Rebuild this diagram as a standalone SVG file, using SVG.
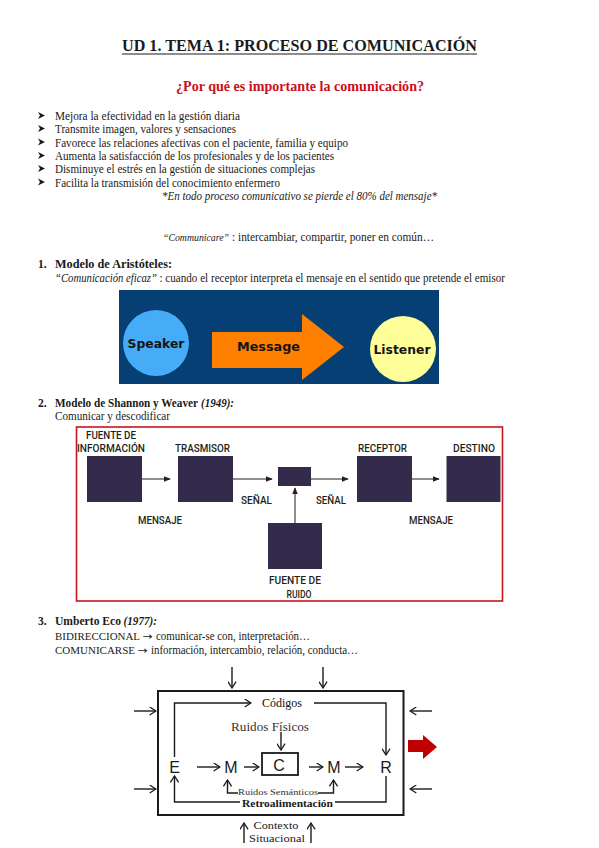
<svg xmlns="http://www.w3.org/2000/svg" width="599" height="848" viewBox="0 0 599 848">
<defs>
<style>
.s{font-family:"Liberation Serif","Times New Roman",serif;fill:#1a1a1a}
.b{font-weight:bold}
.i{font-style:italic}
.body{font-size:11.5px}
.sw{font-family:Roboto,"Liberation Sans",Arial,sans-serif;font-weight:500;font-size:11px;fill:#231f20}
.ar{font-family:"DejaVu Sans",Verdana,sans-serif;font-weight:bold;fill:#151515;font-size:13px}
.eco{stroke:#1a1a1a;stroke-width:1.4;fill:none}
.sh{stroke:#231f20;stroke-width:1;fill:none}
.box{fill:#342a4b}
.big{font-family:"Liberation Sans",Arial,sans-serif;font-size:16px;fill:#1a1a1a}
.bul{fill:#1a1a1a}
.arr{font-family:"DejaVu Sans",sans-serif;font-size:10px;fill:#1a1a1a}
</style>
<marker id="tri" viewBox="0 0 8 8" refX="7" refY="4" markerWidth="7" markerHeight="7" markerUnits="userSpaceOnUse" orient="auto">
<path d="M0,0.8 L8,4 L0,7.2 z" fill="#231f20"/>
</marker>
<marker id="open" viewBox="0 0 10 10" refX="9" refY="5" markerWidth="9" markerHeight="9" markerUnits="userSpaceOnUse" orient="auto">
<path d="M2,0.5 L9,5 L2,9.5" fill="none" stroke="#1a1a1a" stroke-width="1.4"/>
</marker>
<path id="arrowbullet" d="M0,-7 L7,-3.5 L0,0 L2,-3.5 z"/>
</defs>
<rect width="599" height="848" fill="#ffffff"/>

<!-- Header -->
<g id="header">
<text class="s b" x="299.5" y="51" font-size="16.5" text-anchor="middle" textLength="355" lengthAdjust="spacingAndGlyphs">UD 1. TEMA 1: PROCESO DE COMUNICACIÓN</text>
<line x1="122" y1="54" x2="477" y2="54" stroke="#1a1a1a" stroke-width="1"/>
<text class="s b" x="300" y="91" font-size="14.5" text-anchor="middle" style="fill:#c8101a" textLength="248" lengthAdjust="spacingAndGlyphs">¿Por qué es importante la comunicación?</text>
</g>

<!-- Bullets -->
<g id="bullets">
<g class="bul">
<use href="#arrowbullet" x="38" y="119"/>
<use href="#arrowbullet" x="38" y="132"/>
<use href="#arrowbullet" x="38" y="145.5"/>
<use href="#arrowbullet" x="38" y="159"/>
<use href="#arrowbullet" x="38" y="172"/>
<use href="#arrowbullet" x="38" y="185.5"/>
</g>
<text class="s body" x="55" y="120" textLength="185" lengthAdjust="spacingAndGlyphs">Mejora la efectividad en la gestión diaria</text>
<text class="s body" x="55" y="133" textLength="181" lengthAdjust="spacingAndGlyphs">Transmite imagen, valores y sensaciones</text>
<text class="s body" x="55" y="146.5" textLength="293" lengthAdjust="spacingAndGlyphs">Favorece las relaciones afectivas con el paciente, familia y equipo</text>
<text class="s body" x="55" y="160" textLength="279" lengthAdjust="spacingAndGlyphs">Aumenta la satisfacción de los profesionales y de los pacientes</text>
<text class="s body" x="55" y="173" textLength="260" lengthAdjust="spacingAndGlyphs">Disminuye el estrés en la gestión de situaciones complejas</text>
<text class="s body" x="55" y="186.5" textLength="225" lengthAdjust="spacingAndGlyphs">Facilita la transmisión del conocimiento enfermero</text>
<text class="s body i" x="162" y="199.5" textLength="275" lengthAdjust="spacingAndGlyphs">*En todo proceso comunicativo se pierde el 80% del mensaje*</text>
</g>

<g id="communicare">
<text class="s i" x="163" y="241" font-size="10.3" textLength="66" lengthAdjust="spacingAndGlyphs">“Communicare”</text>
<text class="s body" x="232" y="241" textLength="202" lengthAdjust="spacingAndGlyphs">: intercambiar, compartir, poner en común…</text>
</g>

<!-- Section 1 -->
<g id="sec1">
<text class="s body b" x="38" y="268">1.</text>
<text class="s body b" x="55" y="268" textLength="117" lengthAdjust="spacingAndGlyphs">Modelo de Aristóteles:</text>
<text class="s body i" x="55" y="282" textLength="102" lengthAdjust="spacingAndGlyphs">“Comunicación eficaz”</text>
<text class="s body" x="159.5" y="282" textLength="345.5" lengthAdjust="spacingAndGlyphs">: cuando el receptor interpreta el mensaje en el sentido que pretende el emisor</text>
</g>

<g id="aristoteles">
<rect x="119" y="290" width="320" height="94" fill="#053f73"/>
<g id="speaker">
<circle cx="156" cy="343" r="33" fill="#47acf7"/>
<text class="ar" x="156" y="348" text-anchor="middle" textLength="57" lengthAdjust="spacingAndGlyphs">Speaker</text>
</g>
<g id="message">
<polygon points="212,332 302,332 302,314 344,347 302,380 302,368 212,368" fill="#ff7f00"/>
<text class="ar" x="268.5" y="351" text-anchor="middle" textLength="63" lengthAdjust="spacingAndGlyphs">Message</text>
</g>
<g id="listener">
<circle cx="403" cy="349" r="33" fill="#ffff99"/>
<text class="ar" x="402" y="354" text-anchor="middle" textLength="57" lengthAdjust="spacingAndGlyphs">Listener</text>
</g>
</g>

<!-- Section 2 -->
<g id="sec2">
<text class="s body b" x="38" y="407">2.</text>
<text class="s body b" x="55" y="407" textLength="143" lengthAdjust="spacingAndGlyphs">Modelo de Shannon y Weaver</text>
<text class="s body b i" x="201" y="407" textLength="33" lengthAdjust="spacingAndGlyphs">(1949):</text>
<text class="s body" x="55" y="419.5" textLength="115" lengthAdjust="spacingAndGlyphs">Comunicar y descodificar</text>
</g>

<g id="shannon">
<rect x="76.5" y="427" width="426" height="174" fill="#ffffff" stroke="#c8161d" stroke-width="1.6"/>
<g id="fuente">
<rect class="box" x="87" y="456" width="55" height="46"/>
<text class="sw" x="86" y="439" textLength="50" lengthAdjust="spacingAndGlyphs">FUENTE DE</text>
<text class="sw" x="77" y="452" textLength="68" lengthAdjust="spacingAndGlyphs">INFORMACIÓN</text>
</g>
<g id="trasmisor">
<rect class="box" x="178" y="456" width="55" height="46"/>
<text class="sw" x="175" y="452" textLength="55" lengthAdjust="spacingAndGlyphs">TRASMISOR</text>
</g>
<g id="canal">
<rect class="box" x="278" y="467" width="33" height="19"/>
</g>
<g id="receptor">
<rect class="box" x="357" y="456" width="55" height="46"/>
<text class="sw" x="358" y="452" textLength="49" lengthAdjust="spacingAndGlyphs">RECEPTOR</text>
</g>
<g id="destino">
<rect class="box" x="446.5" y="456" width="54" height="46"/>
<text class="sw" x="453" y="452" textLength="42" lengthAdjust="spacingAndGlyphs">DESTINO</text>
</g>
<g id="ruido">
<rect class="box" x="268" y="523" width="54" height="46"/>
<text class="sw" x="269" y="584" textLength="52" lengthAdjust="spacingAndGlyphs">FUENTE DE</text>
<text class="sw" x="286.5" y="598" textLength="25" lengthAdjust="spacingAndGlyphs">RUIDO</text>
</g>
<g id="shannon-labels">
<text class="sw" x="241" y="504" textLength="31" lengthAdjust="spacingAndGlyphs">SEÑAL</text>
<text class="sw" x="316" y="504" textLength="30" lengthAdjust="spacingAndGlyphs">SEÑAL</text>
<text class="sw" x="138" y="524" textLength="44" lengthAdjust="spacingAndGlyphs">MENSAJE</text>
<text class="sw" x="409" y="524" textLength="44" lengthAdjust="spacingAndGlyphs">MENSAJE</text>
</g>
<g id="shannon-connectors">
<line class="sh" x1="142" y1="479" x2="170" y2="479" marker-end="url(#tri)"/>
<line class="sh" x1="233" y1="479" x2="272" y2="479" marker-end="url(#tri)"/>
<line class="sh" x1="311" y1="479" x2="348" y2="479" marker-end="url(#tri)"/>
<line class="sh" x1="412" y1="479" x2="439" y2="479" marker-end="url(#tri)"/>
<line class="sh" x1="295" y1="523" x2="295" y2="488" marker-end="url(#tri)"/>
</g>
</g>

<!-- Section 3 -->
<g id="sec3">
<text class="s body b" x="38" y="625">3.</text>
<text class="s body b" x="55" y="625" textLength="66" lengthAdjust="spacingAndGlyphs">Umberto Eco</text>
<text class="s body b i" x="123.5" y="625" textLength="33.5" lengthAdjust="spacingAndGlyphs">(1977):</text>
<text class="s" x="55" y="640" font-size="9.6" textLength="85" lengthAdjust="spacingAndGlyphs">BIDIRECCIONAL</text>
<text class="arr" x="142.5" y="640" textLength="10" lengthAdjust="spacingAndGlyphs">→</text>
<text class="s body" x="156" y="640" textLength="154" lengthAdjust="spacingAndGlyphs">comunicar-se con, interpretación…</text>
<text class="s" x="55" y="654" font-size="10.5" textLength="80" lengthAdjust="spacingAndGlyphs">COMUNICARSE</text>
<text class="arr" x="137.5" y="654" textLength="10" lengthAdjust="spacingAndGlyphs">→</text>
<text class="s body" x="151" y="654" textLength="207" lengthAdjust="spacingAndGlyphs">información, intercambio, relación, conducta…</text>
</g>

<g id="eco">
<rect x="158" y="691" width="245.5" height="124" fill="none" stroke="#1a1a1a" stroke-width="2"/>
<g id="eco-E"><text class="big" x="174.5" y="773" text-anchor="middle">E</text></g>
<g id="eco-M1"><text class="big" x="231" y="773" text-anchor="middle">M</text></g>
<g id="eco-C">
<rect x="262" y="753" width="36" height="22" fill="none" stroke="#1a1a1a" stroke-width="1.8"/>
<text class="big" x="279" y="771" text-anchor="middle" font-size="15">C</text>
</g>
<g id="eco-M2"><text class="big" x="334" y="773" text-anchor="middle">M</text></g>
<g id="eco-R"><text class="big" x="386" y="773" text-anchor="middle">R</text></g>
<g id="eco-labels">
<text class="s" x="282" y="707" font-size="11.5" text-anchor="middle" textLength="40" lengthAdjust="spacingAndGlyphs" style="fill:#111">Códigos</text>
<text class="s" x="270" y="730.5" font-size="11.5" text-anchor="middle" textLength="78" lengthAdjust="spacingAndGlyphs" style="fill:#333">Ruidos Físicos</text>
<text class="s" x="238" y="794.5" font-size="8.5" textLength="80" lengthAdjust="spacingAndGlyphs" style="fill:#333">Ruidos Semánticos</text>
<text class="s b" x="242" y="807" font-size="11" textLength="91" lengthAdjust="spacingAndGlyphs">Retroalimentación</text>
<text class="s" x="253.5" y="829" font-size="11" textLength="45" lengthAdjust="spacingAndGlyphs">Contexto</text>
<text class="s" x="249" y="841.5" font-size="11" textLength="56" lengthAdjust="spacingAndGlyphs">Situacional</text>
</g>
<g id="eco-connectors">
<line class="eco" x1="232" y1="667" x2="232" y2="688" marker-end="url(#open)"/>
<line class="eco" x1="323" y1="667" x2="323" y2="688" marker-end="url(#open)"/>
<line class="eco" x1="134" y1="711" x2="156" y2="711" marker-end="url(#open)"/>
<line class="eco" x1="134" y1="789" x2="156" y2="789" marker-end="url(#open)"/>
<line class="eco" x1="432" y1="711" x2="410" y2="711" marker-end="url(#open)"/>
<line class="eco" x1="432" y1="789" x2="410" y2="789" marker-end="url(#open)"/>
<polygon points="408,740 423,740 423,735 437,747 423,759 423,752 408,752" fill="#c00000"/>
<path class="eco" d="M174.5,757 V703 H251" marker-end="url(#open)"/>
<path class="eco" d="M314,703 H386 V755" marker-end="url(#open)"/>
<line class="eco" x1="281" y1="732" x2="281" y2="750" marker-end="url(#open)"/>
<line class="eco" x1="197" y1="767" x2="220" y2="767" marker-end="url(#open)"/>
<line class="eco" x1="244" y1="767" x2="259" y2="767" marker-end="url(#open)"/>
<line class="eco" x1="309" y1="767" x2="323" y2="767" marker-end="url(#open)"/>
<line class="eco" x1="345" y1="767" x2="363" y2="767" marker-end="url(#open)"/>
<path class="eco" d="M238,793 H227.5 V780" marker-end="url(#open)"/>
<path class="eco" d="M318,793 H333.5 V780" marker-end="url(#open)"/>
<path class="eco" d="M386,776 V802 H335"/>
<path class="eco" d="M240,802 H174.5 V776" marker-end="url(#open)"/>
<line class="eco" x1="244" y1="843" x2="244" y2="823" marker-end="url(#open)"/>
<line class="eco" x1="311" y1="843" x2="311" y2="823" marker-end="url(#open)"/>
</g>
</g>
</svg>
